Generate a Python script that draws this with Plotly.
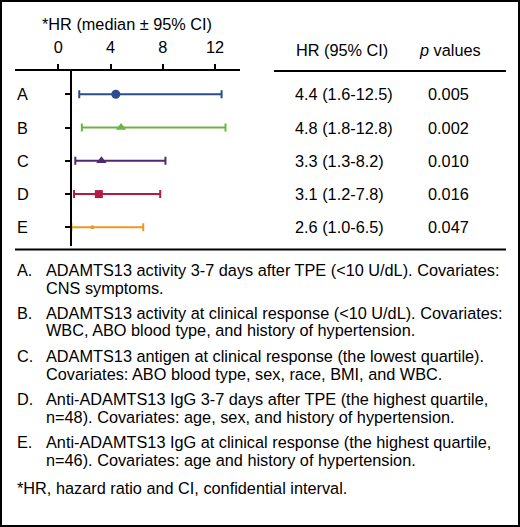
import plotly.graph_objects as go

# forest plot data
labels = ["A", "B", "C", "D", "E"]
hr = [4.4, 4.8, 3.3, 3.1, 2.6]
ci_low = [1.6, 1.8, 1.3, 1.2, 1.0]
ci_high = [12.5, 12.8, 8.2, 7.8, 6.5]
p_values = ["0.005", "0.002", "0.010", "0.016", "0.047"]
colors = ["#2c4c8c", "#6cb343", "#4f2a70", "#b31b43", "#e99a24"]
symbols = ["circle", "triangle-up", "triangle-up", "square", "circle"]
sizes = [9, 9, 9, 8, 4]
x_ticks = [0, 4, 8, 12]

notes = [
    ("A.", "ADAMTS13 activity 3-7 days after TPE (<10 U/dL). Covariates:",
     "CNS symptoms."),
    ("B.", "ADAMTS13 activity at clinical response (<10 U/dL). Covariates:",
     "WBC, ABO blood type, and history of hypertension."),
    ("C.", "ADAMTS13 antigen at clinical response (the lowest quartile).",
     "Covariates: ABO blood type, sex, race, BMI, and WBC."),
    ("D.", "Anti-ADAMTS13 IgG 3-7 days after TPE (the highest quartile,",
     "n=48). Covariates: age, sex, and history of hypertension."),
    ("E.", "Anti-ADAMTS13 IgG at clinical response (the highest quartile,",
     "n=46). Covariates: age and history of hypertension."),
]
footnote = "*HR, hazard ratio and CI, confidential interval."

W, H = 520, 527
FONT = "Liberation Sans, Arial, Helvetica, sans-serif"
FS = 16.3


def px(x):
    return x / W


def py(y):
    return 1 - y / H


xr = [-3.32, 13.91]
xdom = [px(15), px(240)]
ydom = [py(246), py(71)]
yr = [4.56, -0.70]
# y axis line sits at HR = 1
ypos = xdom[0] + (1 - xr[0]) / (xr[1] - xr[0]) * (xdom[1] - xdom[0])

fig = go.Figure()
for i in range(len(labels)):
    fig.add_trace(go.Scatter(
        x=[hr[i]], y=[i], mode="markers",
        marker=dict(color=colors[i], symbol=symbols[i], size=sizes[i]),
        error_x=dict(type="data", symmetric=False,
                     array=[ci_high[i] - hr[i]], arrayminus=[hr[i] - ci_low[i]],
                     color=colors[i], thickness=2, width=4),
        showlegend=False, hoverinfo="skip"))

fig.update_layout(
    width=W, height=H, margin=dict(l=0, r=0, t=0, b=0),
    paper_bgcolor="white", plot_bgcolor="white",
    font=dict(family=FONT, size=FS, color="black"),
    xaxis=dict(domain=xdom, range=xr, side="top", anchor="y",
               tickvals=x_ticks, ticks="outside", ticklen=5, tickwidth=2,
               tickcolor="black", showline=True, linewidth=2, linecolor="black",
               showgrid=False, zeroline=False, ticklabelstandoff=4,
               tickfont=dict(size=FS)),
    yaxis=dict(domain=ydom, range=yr, anchor="free", position=ypos,
               tickvals=list(range(len(labels))), ticks="outside", ticklen=5,
               tickwidth=2, tickcolor="black", showticklabels=False,
               showline=True, linewidth=2, linecolor="black",
               showgrid=False, zeroline=False),
)

ann = []
ann.append(dict(text="*HR (median ± 95% CI)", x=px(127), y=py(24),
                xanchor="center", yanchor="middle"))
ann.append(dict(text="HR (95% CI)", x=px(294), y=py(50),
                xanchor="left", yanchor="middle"))
ann.append(dict(text="<i>p</i> values", x=px(417), y=py(50),
                xanchor="left", yanchor="middle"))
for i, lab in enumerate(labels):
    ann.append(dict(text=lab, x=px(15), y=i, yref="y",
                    xanchor="left", yanchor="middle"))
    ann.append(dict(text=f"{hr[i]} ({ci_low[i]}-{ci_high[i]})", x=px(293), y=i,
                    yref="y", xanchor="left", yanchor="middle"))
    ann.append(dict(text=p_values[i], x=px(426), y=i, yref="y",
                    xanchor="left", yanchor="middle"))

y0 = 270
for k, (letter, l1, l2) in enumerate(notes):
    yy = y0 + k * 43
    ann.append(dict(text=letter, x=px(15), y=py(yy), xanchor="left", yanchor="middle"))
    ann.append(dict(text=l1, x=px(44), y=py(yy), xanchor="left", yanchor="middle"))
    ann.append(dict(text=l2, x=px(44), y=py(yy + 17.5), xanchor="left", yanchor="middle"))
ann.append(dict(text=footnote, x=px(15), y=py(488), xanchor="left", yanchor="middle"))

for a in ann:
    a.setdefault("xref", "paper")
    a.setdefault("yref", "paper")
    a["showarrow"] = False
fig.update_layout(annotations=ann)

fig.update_layout(shapes=[
    dict(type="line", xref="paper", yref="paper", x0=px(274), x1=px(506),
         y0=py(71), y1=py(71), line=dict(color="black", width=2)),
    dict(type="line", xref="paper", yref="paper", x0=px(15), x1=px(506),
         y0=py(249.5), y1=py(249.5), line=dict(color="black", width=2)),
    dict(type="rect", xref="paper", yref="paper", x0=0, x1=1, y0=0, y1=1,
         line=dict(color="black", width=4)),
])

# drop the default page margin so the figure sits at the window corner
fig.write_html("out.html", config={"displayModeBar": False},
               post_script="document.body.style.margin='0';"
                           "document.body.style.overflow='hidden';")
